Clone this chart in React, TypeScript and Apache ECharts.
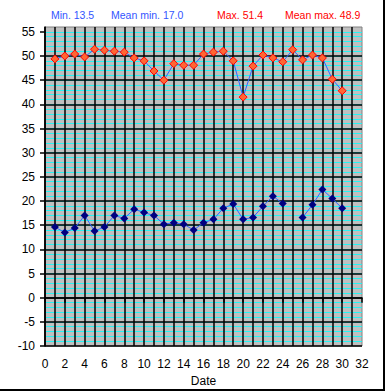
import React, { useEffect, useRef } from "react";
import * as echarts from "echarts";

const days = [1,2,3,4,5,6,7,8,9,10,11,12,13,14,15,16,17,18,19,20,21,22,23,24,25,26,27,28,29,30];
const maxTemps = [49.4,50.0,50.4,49.8,51.4,51.2,51.0,50.8,49.6,49.0,46.9,45.0,48.4,48.1,48.1,50.4,50.8,51.0,49.0,41.5,47.9,50.2,49.6,48.8,51.3,49.2,50.2,49.6,45.2,42.8];
const minTemps: (number | null)[] = [14.6,13.5,14.4,17.0,13.8,14.6,17.0,16.4,18.3,17.6,17.0,15.2,15.5,15.2,14.0,15.5,16.2,18.5,19.4,16.2,16.6,18.9,21.0,19.5,null,16.6,19.2,22.4,20.5,18.5];
const yTicks = [-10,-5,0,5,10,15,20,25,30,35,40,45,50,55];
const xAxisName = "Date";

const FONT = "Liberation Sans, Arial, sans-serif";

export default function App() {
  const ref = useRef<HTMLDivElement>(null);
  useEffect(() => {
    document.body.style.margin = "0";
    const chart = echarts.init(ref.current!, null, { renderer: "svg" });
    const minVals = minTemps.filter((v): v is number => v !== null);
    const minOfMin = Math.min(...minVals);
    const meanMin = minVals.reduce((a, b) => a + b, 0) / minVals.length;
    const maxOfMax = Math.max(...maxTemps);
    const meanMax = maxTemps.reduce((a, b) => a + b, 0) / maxTemps.length;
    const blue = "#3355FF";
    const red = "#FF0000";
    const headerStyle = (text: string, color: string) => ({ text, fill: color, font: `10.5px ${FONT}` });
    chart.setOption({
      animation: false,
      backgroundColor: "#fff",
      grid: {
        left: 45, right: 24, top: 27, bottom: 46,
        show: true, backgroundColor: "#C0C0C0", borderColor: "#808080", borderWidth: 1,
      },
      xAxis: {
        type: "value", min: 0, max: 32, interval: 2, z: 1,
        name: xAxisName, nameLocation: "middle", nameGap: 25,
        nameTextStyle: { color: "#000", fontFamily: FONT, fontSize: 12 },
        axisLine: { show: true, lineStyle: { color: "#000", width: 1.5 } },
        axisTick: { show: true, length: 5, lineStyle: { color: "#000", width: 1.5 } },
        axisLabel: { color: "#000", fontFamily: FONT, fontSize: 12, margin: 12 },
        splitLine: { show: true, showMaxLine: false, lineStyle: { color: "#000", width: 1.5 } },
        minorTick: { show: false, splitNumber: 2 },
        minorSplitLine: { show: true, lineStyle: { color: "#000", width: 1.5 } },
      },
      yAxis: [
        {
          type: "value", position: "left", min: -10, max: 56, interval: 1, z: 0,
          axisLine: { show: false }, axisTick: { show: false }, axisLabel: { show: false },
          splitLine: { show: true, showMinLine: false, showMaxLine: false, lineStyle: { color: "#00FFFF", width: 1, opacity: 0.8 } },
        },
        {
          type: "value", position: "left", min: -10, max: 56, interval: 5, z: 1,
          axisLine: { show: true, lineStyle: { color: "#000", width: 1.5 } },
          axisTick: { show: true, length: 5, customValues: yTicks, lineStyle: { color: "#000", width: 1.5 } },
          axisLabel: { color: "#000", fontFamily: FONT, fontSize: 12, margin: 10, customValues: yTicks },
          splitLine: { show: true, showMaxLine: false, lineStyle: { color: "#000", width: 1.5 } },
        },
      ],
      series: [
        {
          type: "line", yAxisIndex: 1, z: 3,
          data: days.map((d, i) => [d, maxTemps[i]]),
          symbol: "diamond", symbolSize: 8,
          lineStyle: { color: "#3366FF", width: 1 },
          itemStyle: { color: "#FF6633", borderColor: "#FF0000", borderWidth: 1 },
        },
        {
          type: "line", yAxisIndex: 1, z: 3,
          data: days.map((d, i) => [d, minTemps[i] === null ? "-" : minTemps[i]]),
          symbol: "diamond", symbolSize: 8,
          connectNulls: false,
          lineStyle: { color: "#3366FF", width: 1 },
          itemStyle: { color: "#000080", borderColor: "#000080", borderWidth: 0 },
        },
      ],
      graphic: [
        { type: "text", left: 51, top: 9, style: headerStyle(`Min. ${minOfMin.toFixed(1)}`, blue) },
        { type: "text", left: 111, top: 9, style: headerStyle(`Mean min. ${meanMin.toFixed(1)}`, blue) },
        { type: "text", left: 217, top: 9, style: headerStyle(`Max. ${maxOfMax.toFixed(1)}`, red) },
        { type: "text", left: 285, top: 9, style: headerStyle(`Mean max. ${meanMax.toFixed(1)}`, red) },
        { type: "line", shape: { x1: 384, y1: 0, x2: 384, y2: 391 }, style: { stroke: "#000", lineWidth: 2 } },
        { type: "line", shape: { x1: 0, y1: 390, x2: 385, y2: 390 }, style: { stroke: "#000", lineWidth: 2 } },
      ],
    });
    return () => chart.dispose();
  }, []);
  return <div ref={ref} style={{ width: 386, height: 392 }} />;
}
